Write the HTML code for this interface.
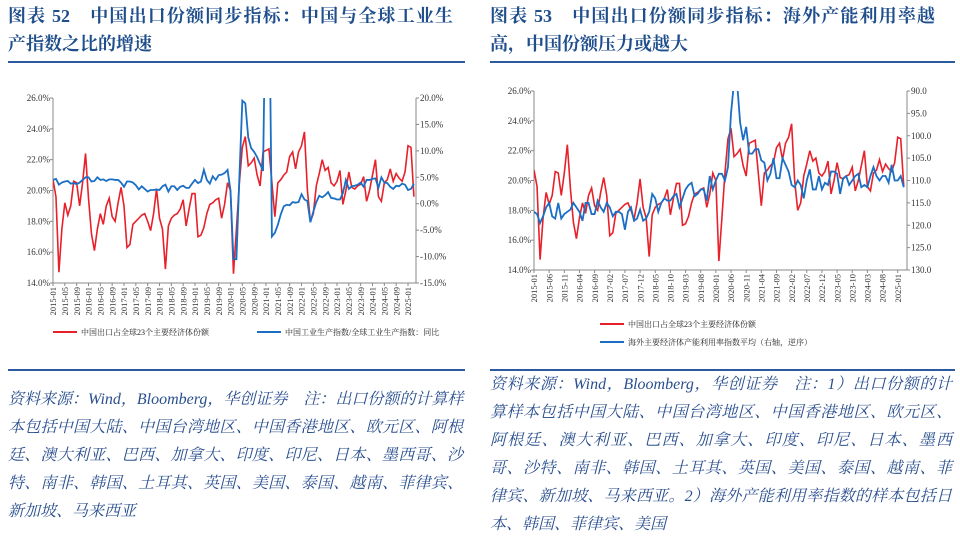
<!DOCTYPE html>
<html><head><meta charset="utf-8">
<style>
body{margin:0;background:#fff;width:960px;height:537px;overflow:hidden;position:relative;font-family:"Liberation Serif","Noto Serif CJK SC",serif;}
.title{position:absolute;color:#1f4e8c;font-weight:bold;font-size:18px;line-height:28px;}
.rule{position:absolute;height:2px;background:#2c5aa0;}
.note{position:absolute;color:#2a4f8f;font-style:italic;font-size:16px;line-height:28px;}
.note div{white-space:nowrap;text-align:justify;text-align-last:justify;}
.note div.last{text-align-last:left;}
svg{position:absolute;left:0;top:0;}
</style></head><body>
<div class="title" style="left:8px;top:2px;width:445px;">
<div style="text-align-last:justify">图表 52　中国出口份额同步指标：中国与全球工业生</div><div>产指数之比的增速</div></div>
<div class="title" style="left:490px;top:2px;width:445px;">
<div style="text-align-last:justify">图表 53　中国出口份额同步指标：海外产能利用率越</div><div>高，中国份额压力或越大</div></div>
<div class="rule" style="left:8px;top:61px;width:457px"></div>
<div class="rule" style="left:490px;top:61px;width:465px"></div>
<div class="rule" style="left:8px;top:369px;width:457px"></div>
<div class="rule" style="left:490px;top:369px;width:465px"></div>
<div class="note" style="left:8px;top:386px;width:455px">
<div>资料来源：Wind，Bloomberg，华创证券　注：出口份额的计算样</div>
<div>本包括中国大陆、中国台湾地区、中国香港地区、欧元区、阿根</div>
<div>廷、澳大利亚、巴西、加拿大、印度、印尼、日本、墨西哥、沙</div>
<div>特、南非、韩国、土耳其、英国、美国、泰国、越南、菲律宾、</div>
<div class="last">新加坡、马来西亚</div></div>
<div class="note" style="left:490px;top:371px;width:462px">
<div>资料来源：Wind，Bloomberg，华创证券　注：1）出口份额的计</div>
<div>算样本包括中国大陆、中国台湾地区、中国香港地区、欧元区、</div>
<div>阿根廷、澳大利亚、巴西、加拿大、印度、印尼、日本、墨西</div>
<div>哥、沙特、南非、韩国、土耳其、英国、美国、泰国、越南、菲</div>
<div>律宾、新加坡、马来西亚。2）海外产能利用率指数的样本包括日</div>
<div class="last">本、韩国、菲律宾、美国</div></div>
<svg id="s" width="960" height="537" xmlns="http://www.w3.org/2000/svg"></svg>
<script>
const share=[20.7,19.6,14.7,17.5,19.2,18.4,19.0,20.6,20.5,19.0,20.5,22.4,
19.5,17.2,16.1,17.5,18.5,17.8,19.0,19.5,18.3,18.0,19.2,20.2,
19.0,16.3,16.5,17.8,18.0,18.2,18.4,18.5,18.0,17.4,18.5,20.1,
18.2,17.5,14.9,17.7,18.2,18.4,18.5,18.8,19.4,17.7,18.8,19.8,
19.8,17.0,17.1,17.6,18.5,19.1,19.2,19.4,19.5,18.2,19.1,20.5,
20.0,14.6,17.5,20.5,22.8,23.5,21.6,21.8,22.1,21.0,20.3,22.5,
22.6,22.7,20.5,18.3,20.5,20.7,21.0,21.2,22.2,22.5,21.4,22.5,
22.9,23.8,20.0,18.0,18.5,20.3,21.1,22.0,21.3,21.5,20.5,20.3,
20.6,21.3,19.1,20.0,21.2,20.2,20.1,20.3,20.4,20.9,19.3,20.0,
21.0,22.0,19.6,19.3,20.5,20.7,21.4,20.6,21.1,20.8,20.6,21.2,
22.9,22.8,19.6];
const ipRatio=[4.5,4.7,3.6,4.0,4.2,4.3,3.8,3.9,3.7,4.0,4.5,5.0,
5.0,4.2,4.3,5.0,4.5,4.6,4.3,4.6,4.6,4.5,4.5,4.0,
3.2,4.2,4.2,4.0,3.5,2.7,3.3,2.8,2.3,2.6,2.6,2.7,
2.6,3.3,3.6,2.3,3.3,3.3,2.6,3.2,3.4,3.0,3.0,3.8,
4.5,3.9,4.2,6.4,4.5,3.8,5.2,4.5,5.4,5.5,5.8,6.4,
2.5,-10.5,-10.5,5.0,19.5,19.0,12.5,10.5,9.8,8.8,7.5,6.2,
45,45,-6.2,-5.5,-4,-2,-0.5,-0.2,-0.3,0.3,0.2,0.3,
1.8,0.8,0.5,-3.5,-1.5,0.3,1.5,1.2,1.6,2.2,1.1,1.0,
0.8,0.8,2.0,4.5,2.8,3.3,3.4,3.6,4.0,3.2,4.5,4.5,
4.7,4.8,3.0,5.0,4.0,3.9,3.2,2.8,3.4,3.3,3.8,3.6,
2.6,2.8,3.8];
const capUtil=[117,117.5,119.5,118,116,115,118,118.5,115,118.5,117.5,117,
116.5,115,116,117,119,115,115,117.5,117.5,114.5,116,117,
115,116,118,117,117,117.5,121,117,116,119,118.5,116.5,
119,118.5,117,113,114,117,115,114,114.5,114.5,113.5,113,
116,114,112,111,110.5,113.5,113,112,112,114.5,109,112,
110,108.5,108.5,110,107,95,88,88,97,101,98,104,
104,103,103,105.5,106,110,108.5,105,109.5,109.5,105,106.5,
108,111,111.5,110,111,114,110,107.5,112,112,109,112,
110.5,111,108,108,108.5,113,109.5,109,111,110,109,108.5,
111.5,111,111.5,109,107,109,110,109,109,110.5,106.5,110,
110,109,111.5];
const leftTicks=["14.0%","16.0%","18.0%","20.0%","22.0%","24.0%","26.0%"];
const leftVals=[14,16,18,20,22,24,26];
const r1Ticks=["-15.0%","-10.0%","-5.0%","0.0%","5.0%","10.0%","15.0%","20.0%"];
const r1Vals=[-15,-10,-5,0,5,10,15,20];
const r2Ticks=["90.0","95.0","100.0","105.0","110.0","115.0","120.0","125.0","130.0"];
const r2Vals=[90,95,100,105,110,115,120,125,130];

const NS="http://www.w3.org/2000/svg";
const svg=document.getElementById('s');
function mk(tag,attrs,parent){const e=document.createElementNS(NS,tag);for(const k in attrs)e.setAttribute(k,attrs[k]);(parent||svg).appendChild(e);return e;}
function label(i){const y=2015+Math.floor(i/12),m=i%12+1;return y+"-"+(m<10?"0":"")+m;}

function chart(o){
  const g=mk('g',{});
  
  
  const X=i=>o.x0+i*o.dx;
  const YL=v=>o.yb-(v-14)/12*(o.yb-o.yt);
  const YR=o.yr;
  const cp=mk('clipPath',{id:o.name+'-clip'},g);
  mk('rect',{x:o.x0,y:o.yt,width:o.xr-o.x0,height:o.yb-o.yt},cp);
  const ax=mk('line',{x1:o.x0,y1:o.yt,x2:o.x0,y2:o.yb,stroke:'#888','stroke-width':1},g);
  
  
  const ar=mk('line',{x1:o.xr,y1:o.yt,x2:o.xr,y2:o.yb,stroke:'#888','stroke-width':1},g);
  
  
  const ab=mk('line',{x1:o.x0,y1:o.yb,x2:o.xr,y2:o.yb,stroke:'#888','stroke-width':1},g);
  
  
  leftVals.forEach((v,k)=>{
    const t=mk('text',{x:o.x0-3,y:YL(v)+3,'text-anchor':'end','font-size':9,fill:'#333'},g);
    
    
    t.textContent=leftTicks[k];
    mk('line',{x1:o.x0-3,x2:o.x0,y1:YL(v),y2:YL(v),stroke:'#888'},g);
  });
  o.rVals.forEach((v,k)=>{
    const t=mk('text',{x:o.xr+4,y:YR(v)+3,'text-anchor':'start','font-size':9,fill:'#333'},g);
    
    
    t.textContent=o.rTicks[k];
    mk('line',{x1:o.xr,x2:o.xr+3,y1:YR(v),y2:YR(v),stroke:'#888'},g);
  });
  for(let i=0;i<=120;i+=o.step){
    const x=X(i);
    mk('line',{x1:x,x2:x,y1:o.yb,y2:o.yb+3,stroke:'#888'},g);
    const t=mk('text',{x:0,y:0,'text-anchor':'end','font-size':8.5,fill:'#333',transform:`translate(${x+3.2},${o.yb+4}) rotate(-90)`},g);
    
    
    t.textContent=label(i);
  }
  const p1=mk('polyline',{points:o.red.map((v,i)=>X(i)+','+YL(v)).join(' '),fill:'none',stroke:'#e8202a','stroke-width':1.6,'clip-path':`url(#${o.name}-clip)`},g);
  
  
  const p2=mk('polyline',{points:o.blue.map((v,i)=>X(i)+','+YR(v)).join(' '),fill:'none',stroke:'#1a6fc4','stroke-width':1.8,'clip-path':`url(#${o.name}-clip)`},g);
  
  
  o.legend.forEach(L=>{
    const lg=mk('g',{},g);
    
    
    mk('line',{x1:L.x,x2:L.x+24,y1:L.y,y2:L.y,stroke:L.c,'stroke-width':2},lg);
    const t=mk('text',{x:L.x+28,y:L.y+3,'font-size':8,fill:'#222'},lg);
    t.textContent=L.t;
  });
}
chart({name:'chart-52',x0:53,xr:416,dx:(408-53)/120,yt:98,yb:283,step:4,red:share,blue:ipRatio,blueName:'series-ip-ratio-yoy',
  yr:v=>283-(v+15)/35*185,rVals:r1Vals,rTicks:r1Ticks,
  legend:[{x:53,y:332,c:'#e8202a',t:'中国出口占全球23个主要经济体份额'},{x:257,y:332,c:'#1a6fc4',t:'中国工业生产指数/全球工业生产指数：同比'}]});
chart({name:'chart-53',x0:534,xr:907,dx:(897.7-534)/120,yt:91,yb:270,step:5,red:share,blue:capUtil,blueName:'series-capacity-utilization',
  yr:v=>91+(v-90)/40*179,rVals:r2Vals,rTicks:r2Ticks,
  legend:[{x:600,y:324,c:'#e8202a',t:'中国出口占全球23个主要经济体份额'},{x:600,y:342,c:'#1a6fc4',t:'海外主要经济体产能利用率指数平均（右轴，逆序）'}]});
</script>
</body></html>
